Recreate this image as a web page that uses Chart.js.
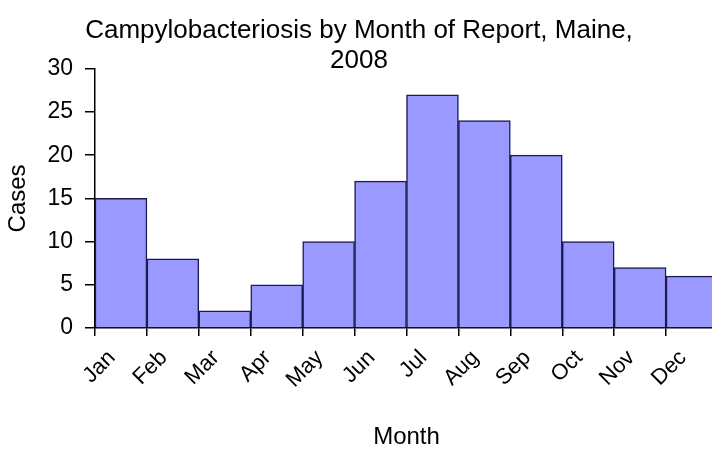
<!DOCTYPE html>
<html>
<head>
<meta charset="utf-8">
<script src="https://cdn.jsdelivr.net/npm/chart.js@4"></script>
<style>
  html, body { margin: 0; padding: 0; background: #fff; overflow: hidden; }
  #wrap { width: 730px; height: 454px; }
</style>
</head>
<body>
<div id="wrap"><canvas id="myChart" width="730" height="454"></canvas></div>
<script>
const months = ['Jan', 'Feb', 'Mar', 'Apr', 'May', 'Jun', 'Jul', 'Aug', 'Sep', 'Oct', 'Nov', 'Dec'];
const cases = [15, 8, 2, 5, 10, 17, 27, 24, 20, 10, 7, 6];
const titleLines = ['Campylobacteriosis by Month of Report, Maine,', '2008'];

const font = 'Liberation Sans';
const canvas = document.getElementById('myChart');

new Chart(canvas, {
    type: 'bar',
    data: {
        labels: months,
        datasets: [{
            label: 'Cases',
            data: cases,
            backgroundColor: '#9999ff',
            borderColor: '#1c1c50',
            borderWidth: 1.5,
            borderSkipped: 'bottom',
            barPercentage: 1,
            categoryPercentage: 1
        }]
    },
    options: {
        responsive: false,
        animation: false,
        layout: { padding: { left: 0, right: 12, top: 0, bottom: 0 } },
        plugins: {
            legend: { display: false },
            tooltip: { enabled: false },
            title: {
                display: true,
                text: titleLines,
                color: '#000',
                font: { family: font, size: 26, weight: 'normal', lineHeight: 1.15 },
                padding: { top: 16, bottom: -7 }
            }
        },
        scales: {
            x: {
                offset: true,
                grid: { offset: true, drawOnChartArea: false, drawTicks: true, tickLength: 8, color: '#000', lineWidth: 1.5 },
                border: { color: '#000', width: 1.5 },
                ticks: {
                    color: '#000',
                    font: { family: font, size: 22 },
                    maxRotation: 45,
                    minRotation: 45,
                    padding: 9,
                    labelOffset: -9,
                    autoSkip: false
                },
                title: {
                    display: true,
                    text: 'Month',
                    color: '#000',
                    font: { family: font, size: 24 },
                    padding: { top: 8, bottom: 2 }
                },
                afterFit: (scale) => { scale.height = 126; }
            },
            y: {
                min: 0,
                max: 30,
                grid: { drawOnChartArea: false, drawTicks: true, tickLength: 10, color: '#000', lineWidth: 1.5 },
                border: { color: '#000', width: 1.5 },
                ticks: {
                    stepSize: 5,
                    color: '#000',
                    font: { family: font, size: 23 },
                    padding: 12
                },
                title: {
                    display: true,
                    text: 'Cases',
                    color: '#000',
                    font: { family: font, size: 24 },
                    padding: { top: 4, bottom: 4 }
                },
                afterFit: (scale) => { scale.width = 95; }
            }
        }
    }
});
</script>
</body>
</html>
